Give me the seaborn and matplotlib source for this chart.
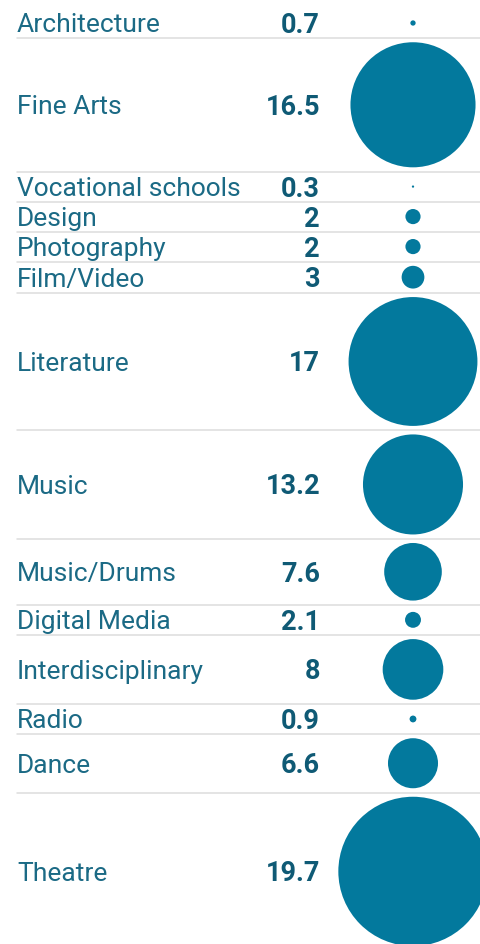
import matplotlib
matplotlib.use("Agg")
import matplotlib.pyplot as plt
import seaborn as sns
import pandas as pd
import numpy as np

# Data
categories = ["Architecture", "Fine Arts", "Vocational schools", "Design", "Photography",
              "Film/Video", "Literature", "Music", "Music/Drums", "Digital Media",
              "Interdisciplinary", "Radio", "Dance", "Theatre"]
values = [0.7, 16.5, 0.3, 2, 2, 3, 17, 13.2, 7.6, 2.1, 8, 0.9, 6.6, 19.7]
value_labels = ["0.7", "16.5", "0.3", "2", "2", "3", "17", "13.2", "7.6", "2.1", "8", "0.9", "6.6", "19.7"]

sns.set_theme(style="white")
plt.rcParams["font.family"] = ["Roboto", "DejaVu Sans"]

W, H, DPI = 480, 944, 100
PX_PER_UNIT = 7.58          # circle diameter (px) per unit of value
MIN_ROW, PAD, TOP = 30, 8.5, 8

df = pd.DataFrame({"category": categories, "value": values, "label": value_labels})
df["diam"] = df["value"] * PX_PER_UNIT
df["row_h"] = np.maximum(MIN_ROW, df["diam"] + PAD)
df["row_bottom"] = TOP + df["row_h"].cumsum()
df["y"] = df["row_bottom"] - df["row_h"] / 2
df["x"] = 413
# marker size in points^2 from diameter in pixels
df["s"] = (df["diam"] * 72 / DPI) ** 2

fig = plt.figure(figsize=(W / DPI, H / DPI), dpi=DPI)
ax = fig.add_axes([0, 0, 1, 1])
ax.set_xlim(0, W)
ax.set_ylim(H, 0)
ax.axis("off")

sns.scatterplot(data=df, x="x", y="y", s=df["s"].values, color="#03799d",
                linewidth=0, ax=ax, legend=False)

label_color = "#1b6a85"
value_color = "#0f5a75"
for _, r in df.iterrows():
    ax.text(17, r["y"] + 2.5, r["category"], fontsize=19, color=label_color,
            ha="left", va="center")
    ax.text(320, r["y"] + 2.5, r["label"], fontsize=19.5, fontweight="bold",
            color=value_color, ha="right", va="center")

# row separators
for yb in df["row_bottom"].values[:-1]:
    ax.plot([17, W], [yb, yb], color="#dddddd", linewidth=1.1, zorder=0)

fig.savefig("out.png", dpi=DPI)
